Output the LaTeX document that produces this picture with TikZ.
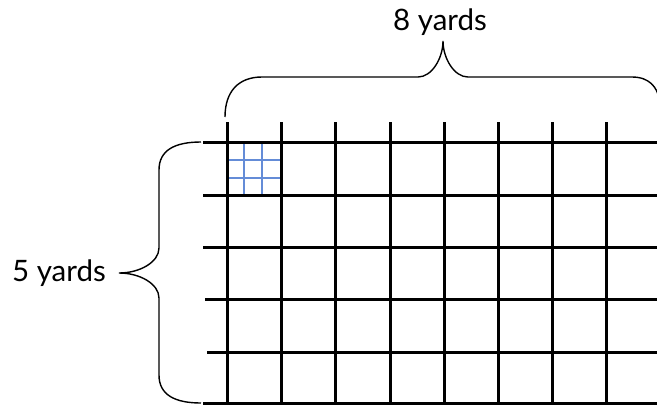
\documentclass[tikz,border=0pt]{standalone}
\usepackage{fontspec}
\setmainfont{Lato}
\begin{document}
\begin{tikzpicture}[x=1pt,y=-1pt,
  gridline/.style={line width=3pt,black},
  subline/.style={line width=1.3pt,color={rgb,255:red,100;green,140;blue,215}},
  bracel/.style={line width=1.4pt,black},
  lbl/.style={font=\fontsize{29.5}{34}\selectfont,inner sep=0pt}]
\useasboundingbox (0,0) rectangle (657,405);
% blue sub-grid in first cell
\foreach \x in {244,262} \draw[subline] (\x,142) -- (\x,195);
\foreach \y in {160,178} \draw[subline] (227,\y) -- (281,\y);
% vertical grid lines
\foreach \x in {227,281,335,390,444,498,552,606}
  \draw[gridline] (\x,122) -- (\x,405);
% horizontal grid lines
\foreach \y/\s in {142/203,195/203,247/203,299/205,352/207,403.5/203}
  \draw[gridline] (\s,\y) -- (657,\y);
% labels
\node[lbl] (top) at (440,22) {8 yards};
\node[lbl,anchor=east] (left) at (106,273) {5 yards};
\coordinate (ttip) at (443,41);
\coordinate (ltip) at (119,273);
% top brace
\draw[bracel] (225,117) .. controls (225,92) and (238,77) .. (262,77) -- (418,77)
  .. controls (432,77) and (443,58) .. (ttip)
  .. controls (443,58) and (454,77) .. (468,77) -- (632,77)
  .. controls (650,77) and (657,88) .. (659,98);
% left brace
\draw[bracel] (201,142) .. controls (175,142) and (159,150) .. (159,170) -- (159,248)
  .. controls (159,262) and (140,273) .. (ltip)
  .. controls (140,273) and (159,284) .. (159,298) -- (159,375)
  .. controls (159,395) and (175,403) .. (201,403);
\end{tikzpicture}
\end{document}
